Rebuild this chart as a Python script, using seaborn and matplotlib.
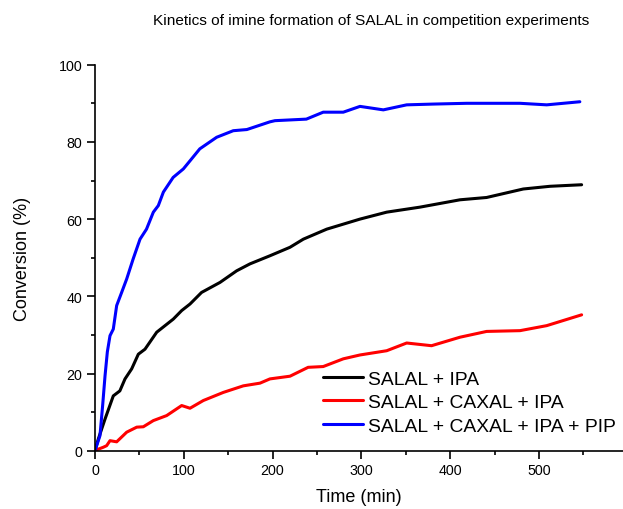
import pandas as pd
import seaborn as sns
import matplotlib.pyplot as plt
import numpy as np
from matplotlib.ticker import MultipleLocator

# SALAL + IPA
t_ipa = [0, 3.7, 11.3, 20.6, 28, 33.8, 41.3, 48.8, 56.3, 69.5, 88.2, 97.6, 107, 120,
         140.8, 159.5, 174.5, 197, 219.6, 234.6, 261, 298.4, 328.5, 366, 411, 441,
         482.3, 512.4, 548]
c_ipa = [0, 3, 8.2, 14.2, 15.5, 18.6, 21.2, 25, 26.3, 30.7, 34.1, 36.3, 38, 41,
         43.6, 46.6, 48.4, 50.5, 52.7, 54.8, 57.4, 60, 61.8, 63.1, 65, 65.6,
         67.8, 68.5, 68.9]

# SALAL + CAXAL + IPA
t_caxal = [0, 2.6, 9.4, 13.1, 16.9, 24.4, 35.7, 47, 54.4, 65.7, 80.7, 97.6, 107, 122,
           144.5, 167, 185.8, 197, 219.6, 240, 257, 279.6, 298.4, 328.5, 351, 379,
           411, 441, 478.6, 508.7, 548]
c_caxal = [0, 0.3, 0.9, 1.3, 2.6, 2.3, 4.8, 6.1, 6.2, 7.8, 9.1, 11.7, 11, 13,
           15.1, 16.8, 17.5, 18.6, 19.3, 21.6, 21.8, 23.8, 24.8, 25.9, 27.9, 27.2,
           29.4, 30.9, 31.1, 32.4, 35.2]

# SALAL + CAXAL + IPA + PIP
t_pip = [0, 5.6, 8.6, 11.3, 13.9, 16.9, 20.6, 24.4, 30, 35.7, 43, 50.7, 58, 65.7,
         71.3, 77, 88, 99.5, 107, 118, 137, 155.7, 171, 197, 202.7, 238, 257,
         279.6, 298.4, 324.7, 351, 381, 418.6, 478.6, 508.7, 546]
c_pip = [0, 3.9, 11.7, 19.4, 25.6, 29.8, 31.5, 37.6, 41, 44.5, 49.7, 54.8, 57.4, 61.8,
         63.5, 67, 70.8, 73, 75.1, 78.2, 81.2, 82.9, 83.2, 85.2, 85.5, 85.9, 87.7,
         87.7, 89.2, 88.3, 89.6, 89.8, 90, 90, 89.6, 90.4]

labels = ["SALAL + IPA", "SALAL + CAXAL + IPA", "SALAL + CAXAL + IPA + PIP"]
colors = ["#000000", "#FF0000", "#0000FF"]

df = pd.concat([
    pd.DataFrame({"Time": t_ipa, "Conversion": c_ipa, "Series": labels[0]}),
    pd.DataFrame({"Time": t_caxal, "Conversion": c_caxal, "Series": labels[1]}),
    pd.DataFrame({"Time": t_pip, "Conversion": c_pip, "Series": labels[2]}),
], ignore_index=True)

sns.set_style("ticks")
plt.rcParams["font.family"] = ["Liberation Sans", "DejaVu Sans"]
plt.rcParams["text.color"] = "black"
plt.rcParams["axes.labelcolor"] = "black"
plt.rcParams["xtick.color"] = "black"
plt.rcParams["ytick.color"] = "black"

fig = plt.figure(figsize=(6.23, 5.10), dpi=100)
ax = fig.add_axes([95 / 623, 1 - 451.7 / 510, 1 - 95 / 623, (451.7 - 65.7) / 510])

sns.lineplot(data=df, x="Time", y="Conversion", hue="Series", palette=dict(zip(labels, colors)),
             estimator=None, sort=False, linewidth=2.2, ax=ax)

ax.set_xlim(0, 594.6)
ax.set_ylim(0, 100)
ax.xaxis.set_major_locator(MultipleLocator(100))
ax.xaxis.set_minor_locator(MultipleLocator(50))
ax.yaxis.set_major_locator(MultipleLocator(20))
ax.yaxis.set_minor_locator(MultipleLocator(10))
ax.tick_params(which="major", length=6, width=1.2, labelsize=10.3, direction="out", pad=3, colors="black")
ax.tick_params(which="minor", length=3, width=1.2, direction="out", colors="black")

for s in ["top", "right"]:
    ax.spines[s].set_visible(False)
for s in ["left", "bottom"]:
    ax.spines[s].set_linewidth(1.2)
    ax.spines[s].set_color("black")

ax.set_xlabel("Time (min)", fontsize=13, labelpad=8, color="black")
ax.set_ylabel("Conversion (%)", fontsize=13, labelpad=20, color="black")

handles = ax.get_lines()[:3]
ax.legend(handles=handles, labels=labels, frameon=False, loc="upper left",
          bbox_to_anchor=((323 - 95) / 528, (451.7 - 371) / 386), borderaxespad=0, borderpad=0,
          fontsize=13.9, handlelength=2.05, handletextpad=0.3, labelspacing=0.32,
          labelcolor="black")

fig.text(371 / 623, 1 - 21 / 510, "Kinetics of imine formation of SALAL in competition experiments",
         ha="center", va="center", fontsize=11.1, color="black")

fig.savefig("out.png", dpi=100)
